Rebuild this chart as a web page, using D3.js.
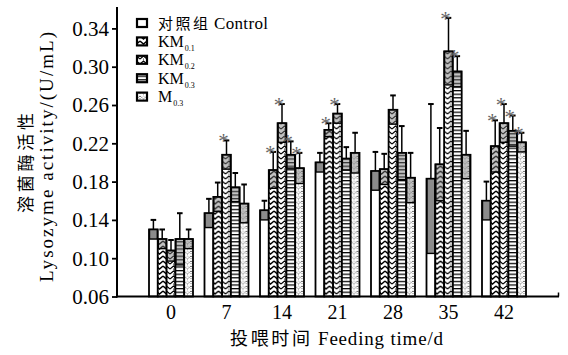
<!DOCTYPE html>
<html><head><meta charset="utf-8">
<script src="https://cdn.jsdelivr.net/npm/d3@7/dist/d3.min.js"></script>
<style>body{margin:0;background:#fff;} svg{display:block;} .sf{font-family:"Liberation Serif","Times New Roman",serif;} .cj{font-family:"Noto Sans CJK SC",sans-serif;}</style>
</head><body>
<svg id="c" width="568" height="355"></svg>
<script>
const days = ["0","7","14","21","28","35","42"];
const seriesNames = ["对照组 Control","KM0.1","KM0.2","KM0.3","M0.3"];
const control = [0.130,0.147,0.150,0.200,0.191,0.183,0.160];
const km01 = [0.120,0.164,0.192,0.234,0.193,0.198,0.217];
const km02 = [0.108,0.208,0.241,0.251,0.255,0.316,0.241];
const km03 = [0.120,0.174,0.208,0.204,0.210,0.295,0.233];
const m03 = [0.120,0.157,0.194,0.210,0.184,0.208,0.221];
const controlSd = [0.010,0.015,0.010,0.010,0.020,0.078,0.020];
const km01Sd = [0.010,0.015,0.019,0.007,0.016,0.038,0.027];
const km02Sd = [0.011,0.015,0.020,0.010,0.015,0.035,0.020];
const km03Sd = [0.027,0.015,0.014,0.012,0.028,0.016,0.016];
const m03Sd = [0.010,0.020,0.016,0.021,0.026,0.025,0.010];
const controlSig = [0,0,0,0,0,0,0];
const km01Sig = [0,0,1,1,0,0,1];
const km02Sig = [0,1,1,1,0,1,1];
const km03Sig = [0,0,1,0,0,1,1];
const m03Sig = [0,0,1,0,0,0,1];
const yTicks = [0.06,0.10,0.14,0.18,0.22,0.26,0.30,0.34];

const means = [control, km01, km02, km03, m03];
const sds = [controlSd, km01Sd, km02Sd, km03Sd, m03Sd];
const sigs = [controlSig, km01Sig, km02Sig, km03Sig, m03Sig];

const svg = d3.select("#c");

// patterns
const defs = svg.append("defs");
function pat(id, w, h, draw){
  const p = defs.append("pattern").attr("id", id).attr("patternUnits","userSpaceOnUse")
    .attr("width", w).attr("height", h);
  p.append("rect").attr("width", w).attr("height", h).attr("fill","#fff");
  draw(p);
}
pat("p0", 4, 4, p => {});
pat("p1", 7, 5, p => {
  p.append("path").attr("d","M0,1 L3.5,4 L7,1").attr("fill","none").attr("stroke","#000").attr("stroke-width",1.4);
});
pat("p2", 7, 5, p => {
  p.append("path").attr("d","M0,4 L3.5,1 L7,4").attr("fill","none").attr("stroke","#000").attr("stroke-width",1.1);
  p.append("circle").attr("cx",3.5).attr("cy",4).attr("r",0.6).attr("fill","#000");
});
pat("p3", 8, 3.6, p => {
  p.append("line").attr("x1",0).attr("x2",8).attr("y1",0.6).attr("y2",0.6).attr("stroke","#000").attr("stroke-width",1.3);
});
pat("p4", 7, 5, p => {
  p.append("path").attr("d","M0,1 L3.5,4 L7,1").attr("fill","none").attr("stroke","#333").attr("stroke-width",0.8).attr("stroke-dasharray","1.2,0.8");
  p.append("path").attr("d","M0,4 L3.5,1 L7,4").attr("fill","none").attr("stroke","#666").attr("stroke-width",0.6).attr("stroke-dasharray","1,1");
});
const fills = ["url(#p0)","url(#p1)","url(#p2)","url(#p3)","url(#p4)"];

const y = d3.scaleLinear().domain([0.06, 0.34]).range([296.5, 28.4]);
const x0 = d3.scaleBand().domain(days).range([143.25, 531.75]).padding(0);
const groupW = 44;
const x1 = d3.scaleBand().domain(d3.range(5)).range([0, groupW]);

// bars
const groups = svg.append("g").selectAll("g").data(days).join("g")
  .attr("transform", d => `translate(${x0(d) + x0.bandwidth()/2 - groupW/2},0)`);

groups.each(function(day, di){
  const g = d3.select(this);
  for (let s = 0; s < 5; s++){
    const m = means[s][di], sd = sds[s][di];
    const bx = x1(s), bw = x1.bandwidth();
    g.append("rect").attr("x", bx).attr("y", y(m)).attr("width", bw).attr("height", y(0.06) - y(m))
      .attr("fill", fills[s]).attr("stroke","#000").attr("stroke-width",1.8);
    g.append("rect").attr("x", bx + 0.5).attr("y", y(m)).attr("width", bw - 1)
      .attr("height", y(Math.max(0.06, m - sd)) - y(m))
      .attr("fill", "#777").attr("fill-opacity", s === 0 ? 0.85 : 0.45)
      .attr("stroke","#000").attr("stroke-width",1.4);
    const cx = bx + bw/2;
    g.append("line").attr("x1",cx).attr("x2",cx).attr("y1",y(m)).attr("y2",y(m+sd))
      .attr("stroke","#000").attr("stroke-width",1.5);
    g.append("line").attr("x1",cx-2.8).attr("x2",cx+2.8).attr("y1",y(m+sd)).attr("y2",y(m+sd))
      .attr("stroke","#000").attr("stroke-width",2);
    if (sigs[s][di]){
      g.append("text").attr("class","sf").attr("x", cx - 3).attr("y", y(m+sd) + 8).attr("text-anchor","middle")
        .attr("font-size", 21).attr("fill","#666").text("*");
    }
  }
});

// axes
const yAxis = svg.append("g").attr("transform","translate(117,0)")
  .call(d3.axisLeft(y).tickValues(yTicks).tickFormat(d3.format(".2f")).tickSize(5).tickPadding(3));
yAxis.attr("font-family", null);
yAxis.select(".domain").remove();
yAxis.selectAll(".tick line").attr("stroke","#000").attr("stroke-width",1.8);
yAxis.selectAll("text").attr("class","sf").attr("font-size", 21).attr("fill","#000").attr("dy","0.33em");
svg.append("line").attr("x1",117).attr("x2",117).attr("y1",7).attr("y2",y(0.06)+1)
  .attr("stroke","#000").attr("stroke-width",2);

const xAxis = svg.append("g").attr("transform",`translate(0,${y(0.06)})`)
  .call(d3.axisBottom(x0).tickSize(0).tickPadding(8));
xAxis.attr("font-family", null);
xAxis.select(".domain").remove();
xAxis.selectAll("text").attr("class","sf").attr("font-size", 20).attr("fill","#000");
svg.append("line").attr("x1",116).attr("x2",559).attr("y1",y(0.06)).attr("y2",y(0.06))
  .attr("stroke","#000").attr("stroke-width",2);
svg.append("line").attr("x1",558.5).attr("x2",558.5).attr("y1",y(0.06)).attr("y2",y(0.06)-4)
  .attr("stroke","#000").attr("stroke-width",1.5);

// axis titles
svg.append("text").attr("class","cj").attr("x", 230).attr("y", 345)
  .attr("font-size", 18).attr("textLength", 80).attr("lengthAdjust","spacing").text("投喂时间");
svg.append("text").attr("class","sf").attr("x", 318).attr("y", 345)
  .attr("font-size", 19).attr("textLength", 125).attr("lengthAdjust","spacing").text("Feeding time/d");
svg.append("text").attr("class","cj").attr("transform","translate(32,163) rotate(-90)").attr("text-anchor","middle")
  .attr("font-size", 17).attr("textLength", 100).attr("lengthAdjust","spacing")
  .text("溶菌酶活性");
svg.append("text").attr("class","sf").attr("transform","translate(53,157) rotate(-90)").attr("text-anchor","middle")
  .attr("font-size", 19).attr("textLength", 250).attr("lengthAdjust","spacing")
  .text("Lysozyme activity/(U/mL)");

// legend
const leg = svg.append("g");
seriesNames.forEach((name, i) => {
  const cy = 23 + 18.4 * i;
  leg.append("rect").attr("x", 137).attr("y", cy - 4).attr("width", 10).attr("height", 8)
    .attr("fill", fills[i]).attr("stroke","#000").attr("stroke-width",2.2);
  if (i === 0){
    leg.append("text").attr("class","cj").attr("x", 158).attr("y", cy + 5.5)
      .attr("font-size", 15).attr("textLength", 50).attr("lengthAdjust","spacing").text("对照组");
    leg.append("text").attr("class","sf").attr("x", 214).attr("y", cy + 5.5)
      .attr("font-size", 17).attr("textLength", 54).attr("lengthAdjust","spacing").text("Control");
  } else {
    const t = leg.append("text").attr("class","sf").attr("x", 158).attr("y", cy + 5.5)
      .attr("font-size", 16).attr("fill","#000");
    const base = name.replace(/0\.\d$/, "");
    const sub = name.slice(base.length);
    t.append("tspan").text(base);
    t.append("tspan").attr("font-size", 8).attr("dy", 4).attr("dx", 1).text(sub);
  }
});
</script>
</body></html>
